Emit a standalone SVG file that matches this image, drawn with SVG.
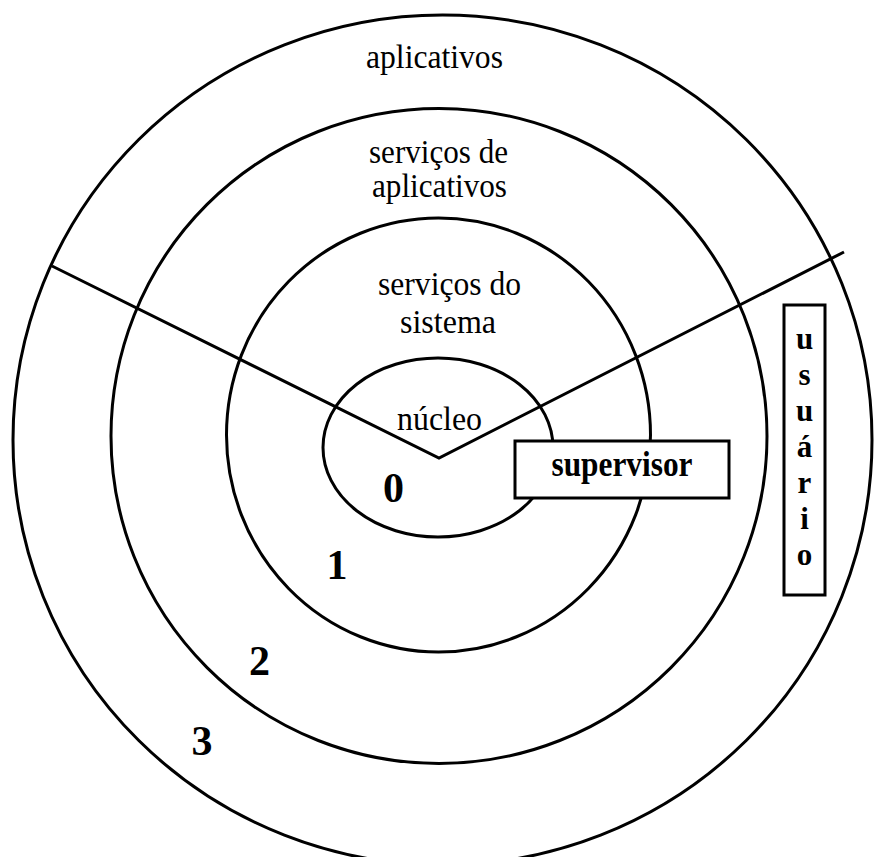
<svg xmlns="http://www.w3.org/2000/svg" width="874" height="857" viewBox="0 0 874 857">
  <style>
    .ring { fill: none; stroke: #000; stroke-width: 3; }
    .box { fill: #fff; stroke: #000; stroke-width: 3; }
    .conn { fill: none; stroke: #000; stroke-width: 3; stroke-linejoin: miter; }
    .lbl { font-family: "Liberation Serif", "Times New Roman", serif; font-size: 34px; fill: #000; text-anchor: middle; }
    .num { font-family: "Liberation Serif", "Times New Roman", serif; font-size: 42px; font-weight: bold; fill: #000; text-anchor: middle; }
    .bold { font-family: "Liberation Serif", "Times New Roman", serif; font-size: 36px; font-weight: bold; fill: #000; text-anchor: middle; }
    .vert { font-family: "Liberation Serif", "Times New Roman", serif; font-size: 31px; font-weight: bold; fill: #000; text-anchor: middle; }
  </style>
  <rect width="874" height="857" fill="#fff"/>

  <g id="ring3">
    <ellipse class="ring" cx="442.5" cy="440" rx="429.5" ry="425"/>
    <text class="lbl" x="434.5" y="68" textLength="137" lengthAdjust="spacingAndGlyphs">aplicativos</text>
    <text class="num" x="202" y="755">3</text>
  </g>

  <g id="ring2">
    <ellipse class="ring" cx="439" cy="436" rx="328" ry="327.5"/>
    <text class="lbl" x="438.5" y="163" textLength="139" lengthAdjust="spacingAndGlyphs">serviços de</text>
    <text class="lbl" x="439.5" y="197" textLength="135" lengthAdjust="spacingAndGlyphs">aplicativos</text>
    <text class="num" x="259.5" y="675">2</text>
  </g>

  <g id="ring1">
    <ellipse class="ring" cx="438.5" cy="435" rx="212" ry="217"/>
    <text class="lbl" x="449.5" y="295" textLength="143" lengthAdjust="spacingAndGlyphs">serviços do</text>
    <text class="lbl" x="448" y="333" textLength="96" lengthAdjust="spacingAndGlyphs">sistema</text>
    <text class="num" x="337" y="579">1</text>
  </g>

  <g id="nucleo">
    <ellipse class="ring" cx="438" cy="447.5" rx="115" ry="89.5"/>
    <text class="lbl" x="439.5" y="430" textLength="85" lengthAdjust="spacingAndGlyphs">núcleo</text>
    <text class="num" x="393.5" y="502">0</text>
  </g>

  <g id="connectors">
    <polyline class="conn" points="52,266 439,458 844,252"/>
  </g>

  <g id="supervisor">
    <rect class="box" x="515" y="441" width="214" height="57"/>
    <text class="bold" x="622" y="476" textLength="141" lengthAdjust="spacingAndGlyphs">supervisor</text>
  </g>

  <g id="usuario">
    <rect class="box" x="784" y="305" width="41" height="290"/>
    <text class="vert" x="804.5" y="349">u</text>
    <text class="vert" x="804.5" y="385">s</text>
    <text class="vert" x="804.5" y="421">u</text>
    <text class="vert" x="804.5" y="457">á</text>
    <text class="vert" x="804.5" y="493">r</text>
    <text class="vert" x="804.5" y="529">i</text>
    <text class="vert" x="804.5" y="565">o</text>
  </g>
</svg>
